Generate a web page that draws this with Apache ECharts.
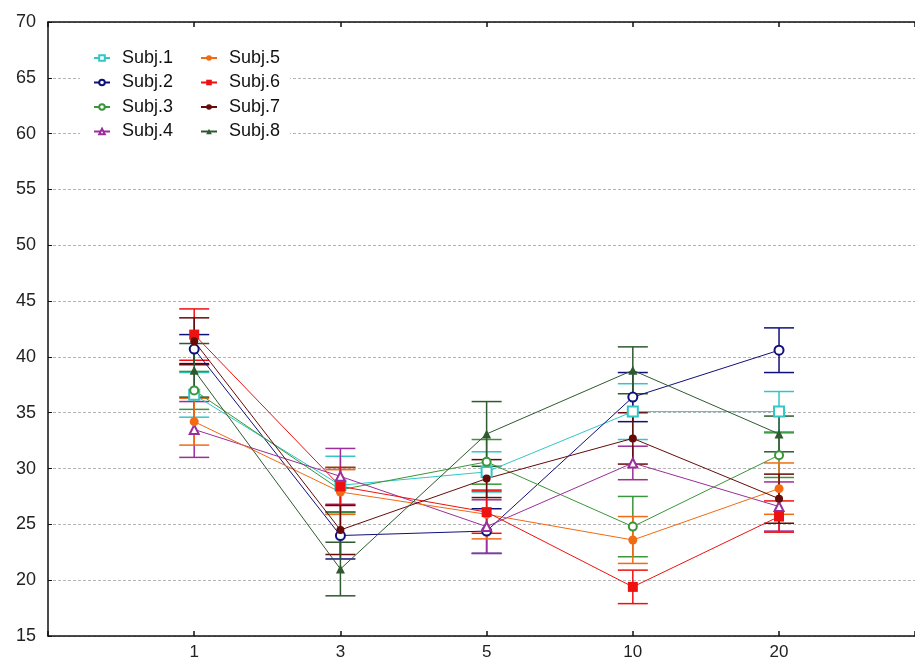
<!DOCTYPE html>
<html>
<head>
<meta charset="utf-8">
<script src="https://cdn.jsdelivr.net/npm/echarts@6/dist/echarts.min.js"></script>
<style>
  html, body { margin: 0; padding: 0; background: #fff; }
  #chart { width: 915px; height: 664px; }
</style>
</head>
<body>
<div id="chart"></div>
<script>
// x tick labels (positions 1..5 on the axis, 0 is the empty left margin)
const xLabels = ['', '1', '3', '5', '10', '20'];

const names = ['Subj.1', 'Subj.2', 'Subj.3', 'Subj.4', 'Subj.5', 'Subj.6', 'Subj.7', 'Subj.8'];

// means
const subj1 = [36.6, 28.5, 29.7, 35.1, 35.1];
const subj2 = [40.7, 24.0, 24.4, 36.4, 40.6];
const subj3 = [37.0, 28.1, 30.6, 24.8, 31.2];
const subj4 = [33.5, 29.3, 24.8, 30.5, 26.6];
const subj5 = [34.2, 27.9, 25.9, 23.6, 28.2];
const subj6 = [42.0, 28.4, 26.1, 19.4, 25.7];
const subj7 = [41.4, 24.5, 29.1, 32.7, 27.3];
const subj8 = [38.8, 21.0, 33.1, 38.8, 33.1];

// half widths of the error bars
const err1 = [2.0, 2.6, 1.8, 2.5, 1.8];
const err2 = [1.3, 2.1, 2.0, 2.2, 2.0];
const err3 = [1.7, 2.0, 2.0, 2.7, 2.0];
const err4 = [2.5, 2.5, 2.4, 1.5, 2.2];
const err5 = [2.1, 2.0, 2.2, 2.1, 2.3];
const err6 = [2.3, 1.7, 1.9, 1.5, 1.4];
const err7 = [2.1, 2.2, 1.7, 2.3, 2.2];
const err8 = [2.4, 2.4, 2.9, 2.1, 1.6];

const means = [subj1, subj2, subj3, subj4, subj5, subj6, subj7, subj8];
const errs = [err1, err2, err3, err4, err5, err6, err7, err8];

const colors = ['#33c6c6', '#10107a', '#3a963a', '#9a2e9a', '#f26a12', '#ee1111', '#660a0a', '#2f5a2f'];
const symbols = ['emptyRect', 'emptyCircle', 'emptyCircle', 'emptyTriangle', 'circle', 'rect', 'circle', 'triangle'];
const symbolSizes = [10, 9, 8, 9, 9, 10, 8, 9];

const chart = echarts.init(document.getElementById('chart'));

function errorBar(params, api) {
  const x = api.value(0);
  const lo = api.coord([x, api.value(1)]);
  const hi = api.coord([x, api.value(2)]);
  const half = 15;
  const style = { stroke: api.visual('color'), lineWidth: 1.5 };
  return {
    type: 'group',
    children: [
      { type: 'line', shape: { x1: lo[0], y1: lo[1], x2: hi[0], y2: hi[1] }, style: style },
      { type: 'line', shape: { x1: lo[0] - half, y1: lo[1], x2: lo[0] + half, y2: lo[1] }, style: style },
      { type: 'line', shape: { x1: hi[0] - half, y1: hi[1], x2: hi[0] + half, y2: hi[1] }, style: style }
    ]
  };
}

const series = [];
names.forEach(function (name, k) {
  series.push({
    name: name + ' err',
    type: 'custom',
    renderItem: errorBar,
    itemStyle: { color: colors[k] },
    encode: { x: 0, y: [1, 2] },
    data: means[k].map(function (m, i) { return [i + 1, m - errs[k][i], m + errs[k][i]]; }),
    z: 2
  });
});
names.forEach(function (name, k) {
  series.push({
    name: name,
    type: 'line',
    symbol: symbols[k],
    symbolSize: symbolSizes[k],
    showAllSymbol: true,
    itemStyle: { color: colors[k], borderWidth: 1.5 },
    lineStyle: { color: colors[k], width: 1 },
    data: means[k].map(function (m, i) { return [i + 1, m]; }),
    z: 3
  });
});

const legendText = { fontFamily: 'Arial, "Liberation Sans", sans-serif', fontSize: 18, color: '#111', lineHeight: 18, padding: [0, 0, 0, 7] };

const option = {
  animation: false,
  backgroundColor: '#fff',
  grid: { left: 48, top: 22, bottom: 28, right: 0, outerBoundsMode: 'none', containLabel: false },
  legend: [
    {
      data: names.slice(0, 4),
      orient: 'vertical',
      left: 80, top: 43,
      padding: [6, 18, 6, 13],
      itemGap: 6.5, itemWidth: 16, itemHeight: 7,
      backgroundColor: '#fff',
      textStyle: legendText
    },
    {
      data: names.slice(4),
      orient: 'vertical',
      left: 190, top: 43,
      padding: [6, 10, 6, 10],
      itemGap: 6.5, itemWidth: 16, itemHeight: 7,
      backgroundColor: '#fff',
      textStyle: legendText
    }
  ],
  xAxis: [
    {
      type: 'value', min: 0, max: 5.93, interval: 1,
      axisLine: { lineStyle: { color: '#111', width: 1.5 } },
      axisTick: { inside: true, length: 5, lineStyle: { color: '#111', width: 1.5 } },
      axisLabel: {
        margin: 8, color: '#222', fontSize: 17,
        fontFamily: 'Arial, "Liberation Sans", sans-serif',
        formatter: function (v) { return xLabels[v] || ''; }
      },
      splitLine: { show: false }
    },
    {
      type: 'value', min: 0, max: 5.93, interval: 1, position: 'top',
      axisLine: { lineStyle: { color: '#111', width: 1.5 } },
      axisTick: { inside: true, length: 5, lineStyle: { color: '#111', width: 1.5 } },
      axisLabel: { show: false },
      splitLine: { show: false }
    }
  ],
  yAxis: {
    type: 'value', min: 15, max: 70, interval: 5,
    axisLine: { show: true, lineStyle: { color: '#111', width: 1.5 } },
    axisTick: { show: true, inside: true, length: 4, lineStyle: { color: '#111' } },
    axisLabel: {
      margin: 12, color: '#222', fontSize: 18,
      fontFamily: 'Arial, "Liberation Sans", sans-serif'
    },
    splitLine: { lineStyle: { color: '#b4b4b4', width: 1, type: [3, 2] } }
  },
  series: series
};

chart.setOption(option);
</script>
</body>
</html>
